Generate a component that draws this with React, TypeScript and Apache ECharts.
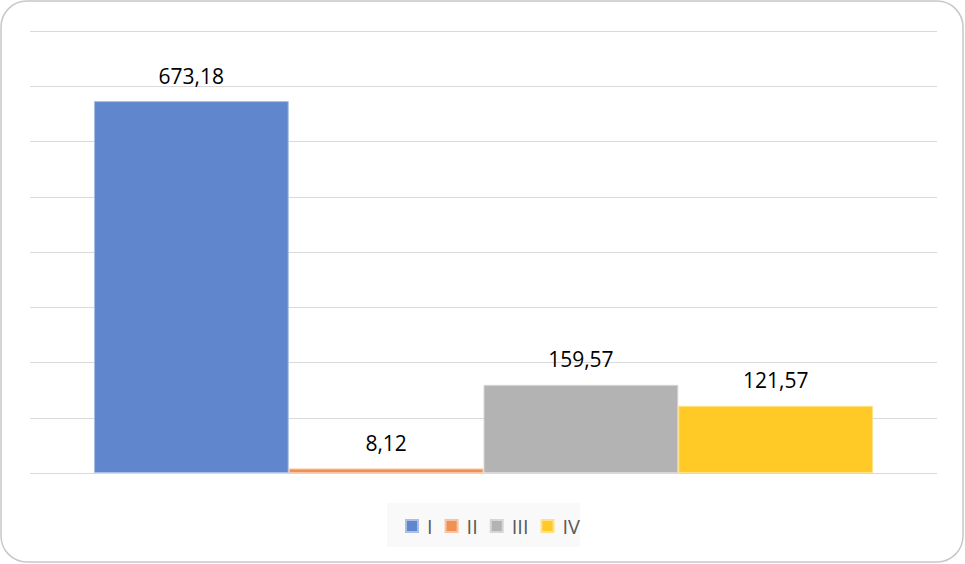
import React, { useEffect, useRef } from "react";
import * as echarts from "echarts";

const categories = [""];
const seriesNames = ["I", "II", "III", "IV"];
const seriesValues = [673.18, 8.12, 159.57, 121.57];
const colors = ["#6087CD", "#F09055", "#B3B3B3", "#FFC926"];
const borderColors = ["#a9bfe6", "#f7c4a3", "#d6d6d6", "#ffe08a"];

export default function App() {
  const ref = useRef<HTMLDivElement>(null);
  useEffect(() => {
    document.body.style.margin = "0";
    const chart = echarts.init(ref.current!, null, { renderer: "svg" });
    chart.setOption({
      animation: false,
      backgroundColor: "#ffffff",
      graphic: [
        {
          type: "rect",
          shape: { x: 1, y: 1, width: 962, height: 561, r: 26 },
          style: { fill: "none", stroke: "#c8c8c8", lineWidth: 1.5 },
          z: 100,
        },
        {
          type: "rect",
          shape: { x: 387, y: 503, width: 193, height: 44 },
          style: { fill: "#f9f9f9" },
          z: -1,
        },
      ],
      grid: { left: 30, right: 28, top: 31, bottom: 91 },
      xAxis: {
        type: "category",
        data: categories,
        axisLine: { show: false },
        axisTick: { show: false },
        axisLabel: { show: false },
      },
      yAxis: {
        type: "value",
        min: 0,
        max: 800,
        interval: 100,
        axisLabel: { show: false },
        axisLine: { show: false },
        axisTick: { show: false },
        splitLine: { lineStyle: { color: "#d9d9d9", width: 1 } },
      },
      legend: {
        show: true,
        data: seriesNames,
        left: 400,
        top: 511,
        icon: "rect",
        itemWidth: 12,
        itemHeight: 12,
        itemGap: 12,
        textStyle: {
          color: "#595959",
          fontSize: 20,
          fontFamily: "Open Sans",
          padding: [0, 0, 0, 4],
        },
      },
      series: seriesNames.map((name, i) => ({
        type: "bar",
        name,
        data: [seriesValues[i]],
        barGap: "0%",
        barCategoryGap: "14.1%",
        itemStyle: { color: colors[i], borderColor: borderColors[i], borderWidth: 1 },
        label: {
          show: true,
          position: "top",
          distance: 15,
          color: "#000000",
          fontSize: 21,
          fontFamily: "Open Sans",
          formatter: (p: any) => String(p.value.toFixed(2)).replace(".", ","),
        },
      })),
    });
    return () => chart.dispose();
  }, []);
  return <div ref={ref} style={{ width: 965, height: 564 }} />;
}
